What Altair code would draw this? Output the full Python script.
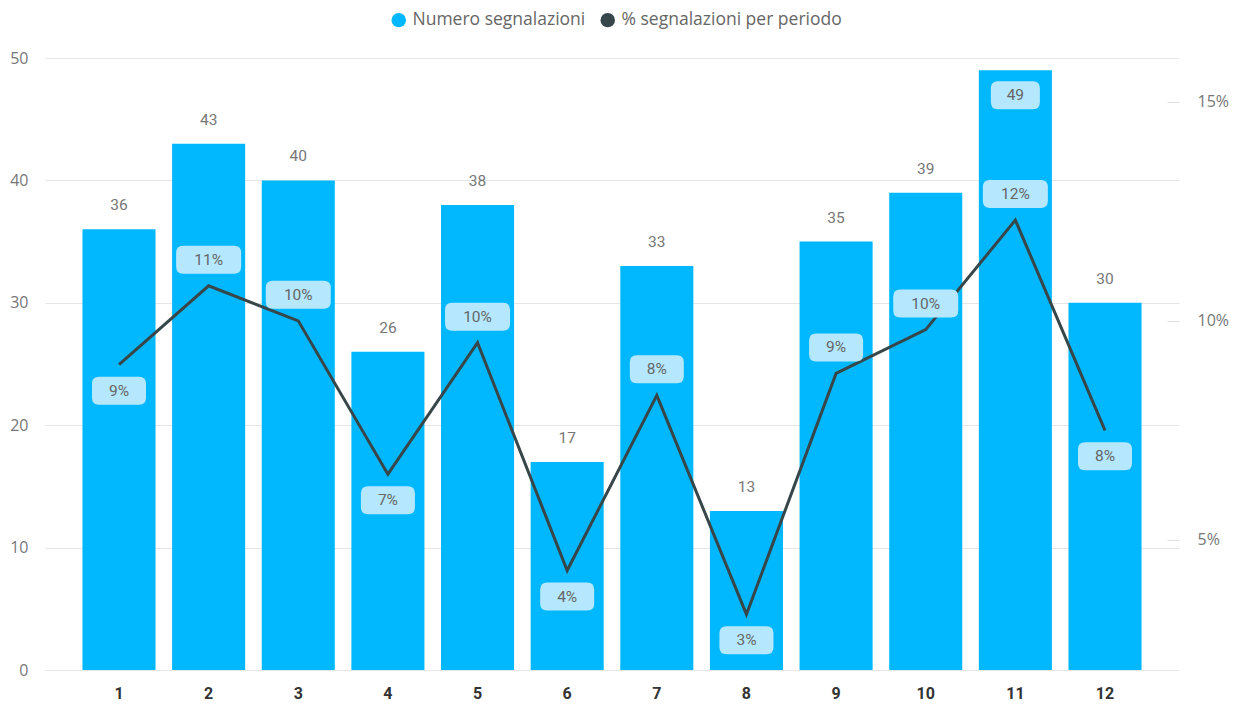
import altair as alt
import pandas as pd

periods = [1, 2, 3, 4, 5, 6, 7, 8, 9, 10, 11, 12]
counts = [36, 43, 40, 26, 38, 17, 33, 13, 35, 39, 49, 30]
shares = [0.090, 0.108, 0.100, 0.065, 0.095, 0.043, 0.083, 0.033, 0.088, 0.098, 0.123, 0.075]
share_labels = ["9%", "11%", "10%", "7%", "10%", "4%", "8%", "3%", "9%", "10%", "12%", "8%"]
label_side = ["below", "above", "above", "below", "above", "below", "above", "below",
              "above", "above", "above", "below"]
series_names = ["Numero segnalazioni", "% segnalazioni per periodo"]
y_ticks = [0, 10, 20, 30, 40, 50]
pct_ticks = [0.05, 0.10, 0.15]

df = pd.DataFrame({"periodo": periods, "n": counts, "pct": shares,
                   "lab": share_labels, "side": label_side})

BAR = "#01B8FF"
LINE = "#374649"
BOX = "#B5E8FF"
LBL = "#777777"


def rrect(w, h, r):
    x0, x1, y0, y1 = -w / 2, w / 2, -h / 2, h / 2
    return (f"M{x0 + r},{y0} L{x1 - r},{y0} Q{x1},{y0} {x1},{y0 + r} "
            f"L{x1},{y1 - r} Q{x1},{y1} {x1 - r},{y1} L{x0 + r},{y1} "
            f"Q{x0},{y1} {x0},{y1 - r} L{x0},{y0 + r} Q{x0},{y0} {x0 + r},{y0} Z")


xdef = alt.X("periodo:O",
             scale=alt.Scale(paddingInner=0.185, paddingOuter=0.418),
             axis=alt.Axis(title=None, labelAngle=0, domain=False, ticks=False,
                           labelPadding=15, labelFont="Roboto", labelFontSize=16,
                           labelFontWeight="bold", labelColor="#333333"))

yleft = alt.Y("n:Q", scale=alt.Scale(domain=[0, 50], nice=False),
              axis=alt.Axis(title=None, values=y_ticks, grid=True, gridColor="#E6E6E6",
                            gridWidth=1, domain=False, ticks=False, labelPadding=17,
                            labelFont="Open Sans", labelFontSize=16, labelColor=LBL))

yright = alt.Y("pct:Q", scale=alt.Scale(domain=[0.0203, 0.160], nice=False, zero=False),
               axis=alt.Axis(title=None, orient="right", values=pct_ticks, format=".0%",
                             grid=False, domain=False, ticks=True, tickSize=12,
                             tickColor="#E0E0E0", offset=-12, labelPadding=18,
                             labelAlign="left",
                             labelFont="Open Sans", labelFontSize=16, labelColor=LBL))

color_scale = alt.Scale(domain=series_names, range=[BAR, LINE])
legend = alt.Legend(title=None, orient="none", direction="horizontal",
                    legendX=345, legendY=-47, padding=0,
                    symbolType="circle", symbolSize=210, symbolStrokeWidth=0,
                    symbolOpacity=1, labelLimit=500,
                    labelFont="Open Sans", labelFontSize=17.5, labelColor="#666666",
                    labelOffset=5, columnPadding=13)

base = alt.Chart(df)

bars = base.transform_calculate(serie=f"'{series_names[0]}'").mark_bar().encode(
    x=xdef, y=yleft,
    color=alt.Color("serie:N", scale=color_scale, legend=legend))

bar_lbl_out = base.transform_filter("datum.n <= 47").mark_text(
    dy=-24, baseline="middle", font="Roboto", fontSize=15.5, color=LBL
).encode(x=xdef, y=yleft, text="n:Q")

bar_box_in = base.transform_filter("datum.n > 47").mark_point(
    shape=rrect(49, 28, 7), size=4, filled=True, fill=BOX, opacity=1, strokeWidth=0,
    yOffset=25).encode(x=xdef, y=yleft)

bar_lbl_in = base.transform_filter("datum.n > 47").mark_text(
    dy=25, baseline="middle", font="Roboto", fontSize=15.5, color="#666666"
).encode(x=xdef, y=yleft, text="n:Q")

line = base.transform_calculate(serie=f"'{series_names[1]}'").mark_line(
    strokeWidth=3, strokeJoin="miter").encode(
    x=xdef, y=yright,
    color=alt.Color("serie:N", scale=color_scale, legend=legend))

box_shape = alt.Shape("w:N", scale=alt.Scale(domain=["narrow", "wide"],
                                             range=[rrect(54, 28, 7), rrect(65, 28, 7)]),
                      legend=None)

lab_base = base.transform_calculate(
    w="length(datum.lab) > 2 ? 'wide' : 'narrow'")

boxes_above = lab_base.transform_filter("datum.side == 'above'").mark_point(
    size=4, filled=True, fill=BOX, opacity=1, strokeWidth=0, yOffset=-26
).encode(x=xdef, y=yright, shape=box_shape)
boxes_below = lab_base.transform_filter("datum.side == 'below'").mark_point(
    size=4, filled=True, fill=BOX, opacity=1, strokeWidth=0, yOffset=26
).encode(x=xdef, y=yright, shape=box_shape)

txt_above = base.transform_filter("datum.side == 'above'").mark_text(
    dy=-26, baseline="middle", font="Roboto", fontSize=15.5, color="#666666"
).encode(x=xdef, y=yright, text="lab:N")
txt_below = base.transform_filter("datum.side == 'below'").mark_text(
    dy=26, baseline="middle", font="Roboto", fontSize=15.5, color="#666666"
).encode(x=xdef, y=yright, text="lab:N")

left = alt.layer(bars, bar_lbl_out, bar_box_in, bar_lbl_in)
right = alt.layer(line, boxes_above, boxes_below, txt_above, txt_below)

chart = alt.layer(left, right).resolve_scale(y="independent").properties(
    width=1134, height=612,
    padding={"left": 37, "top": 50, "right": 50, "bottom": 40},
    autosize=alt.AutoSizeParams(type="none"),
).configure_view(stroke=None)

chart.save("out.html", embed_options={"renderer": "svg", "actions": False})
